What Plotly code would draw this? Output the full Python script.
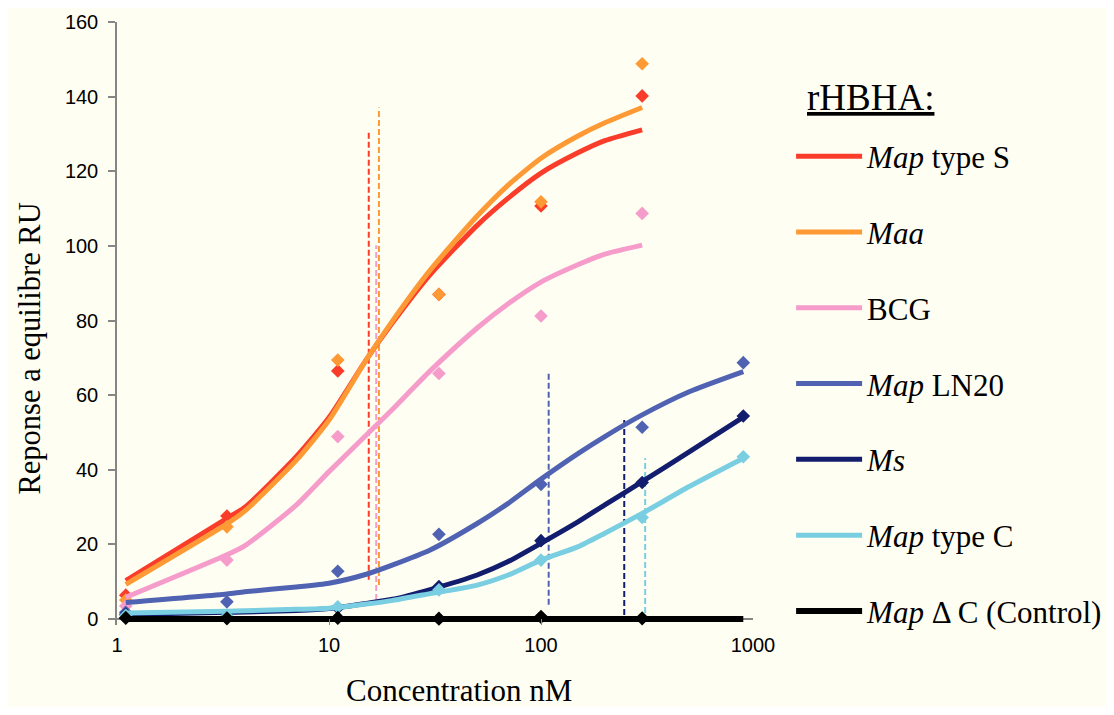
import plotly.graph_objects as go

# ---- data ----
conc = [1.1, 3.3, 11, 33, 100, 300, 900]

names = ["<i>Map</i> type S", "<i>Maa</i>", "BCG", "<i>Map</i> LN20", "<i>Ms</i>",
         "<i>Map</i> type C", "<i>Map</i> \u0394 C (Control)"]
colors = ["#FA3C2A", "#FD9A35", "#F59CCB", "#5063B2", "#131D6E", "#79CEE1", "#000000"]

# measured equilibrium responses (RU)
pts_map_s = [6.4, 27.6, 66.5, 87.0, 110.7, 140.2]
pts_maa = [5.1, 24.7, 69.4, 87.0, 111.8, 148.8]
pts_bcg = [3.5, 15.8, 48.9, 65.8, 81.2, 108.7]
pts_ln20 = [1.8, 4.6, 12.8, 22.7, 36.1, 51.4, 68.7]
pts_ms = [1.3, 0.6, 3.0, 8.7, 21.0, 36.6, 54.4]
pts_c = [1.0, 0.8, 3.3, 7.8, 15.8, 27.2, 43.5]
pts_ctrl = [0.3, 0.2, 0.3, 0.1, 0.6, 0.2]

# fitted curves
fit_x = [1.1, 3.3, 4, 7, 10, 15, 20, 30, 50, 70, 100, 150, 200, 300, 500, 900]
fit_map_s = [10.3, 27.0, 29.9, 43.5, 54.0, 69.5, 79.5, 92.3, 105.5, 112.8, 119.5, 125.0, 128.2, 131.1]
fit_maa = [9.3, 25.5, 28.9, 42.5, 53.3, 69.5, 80.0, 93.5, 108.0, 116.3, 123.5, 129.5, 133.0, 137.1]
fit_bcg = [5.8, 17.2, 19.6, 30.5, 39.5, 49.3, 56.3, 66.5, 78.0, 84.5, 90.3, 95.0, 97.8, 100.2]
fit_ln20 = [4.4, 6.7, 7.3, 8.6, 9.6, 12.0, 14.5, 18.5, 25.6, 31.0, 37.5, 44.4, 48.9, 54.7, 60.9, 66.3]
fit_ms = [1.2, 1.8, 1.9, 2.3, 2.8, 4.2, 5.3, 7.9, 11.8, 15.4, 20.3, 26.1, 30.6, 36.8, 44.8, 54.1]
fit_c = [1.6, 2.1, 2.2, 2.6, 2.9, 4.0, 5.0, 6.8, 9.1, 11.8, 15.8, 19.4, 23.0, 28.3, 35.5, 43.1]
fit_ctrl = [0, 0, 0, 0, 0, 0, 0, 0, 0, 0, 0, 0, 0, 0, 0, 0]

# KD markers (dashed verticals)
kd_x = [15.4, 17.2, 16.7, 108.7, 247, 310]
kd_low = [10.5, 9.1, 5.1, 3.8, 1.1, 1.6]
kd_high = [131.1, 137.1, 100.2, 66.3, 54.1, 43.1]

pts = [pts_map_s, pts_maa, pts_bcg, pts_ln20, pts_ms, pts_c, pts_ctrl]
fits = [fit_map_s, fit_maa, fit_bcg, fit_ln20, fit_ms, fit_c, fit_ctrl]

SERIF = "Liberation Serif, Times New Roman, serif"
SANS = "Liberation Sans, Arial, sans-serif"
BG = "#FFFEF2"

fig = go.Figure()

# dashed KD lines
for i in range(len(kd_x)):
    fig.add_trace(go.Scatter(
        x=[kd_x[i], kd_x[i]], y=[kd_low[i], kd_high[i]], mode="lines",
        line=dict(color=colors[i], width=2, dash="6px,3px"),
        showlegend=False, hoverinfo="skip"))

for i in range(len(names)):
    n = len(fits[i])
    fig.add_trace(go.Scatter(
        x=fit_x[:n], y=fits[i], mode="lines", name=names[i],
        legendgroup="g%d" % i,
        line=dict(color=colors[i], width=6 if i == 6 else 5, shape="spline", smoothing=0.6),
        cliponaxis=False))
    m = len(pts[i])
    fig.add_trace(go.Scatter(
        x=conc[:m], y=pts[i], mode="markers", legendgroup="g%d" % i,
        marker=dict(symbol="diamond", size=11 if i == 6 else 10.5, color=colors[i]),
        showlegend=False, cliponaxis=False))

# page has an 8px body margin: figure is sized/offset to compensate
fig.update_layout(
    width=1106, height=699,
    margin=dict(l=109, r=361, t=14, b=82, autoexpand=False),
    paper_bgcolor=BG, plot_bgcolor=BG,
    font=dict(family=SERIF, color="#000000"),
    showlegend=True,
    legend=dict(
        x=1.0599, xanchor="left", y=0.8217, yanchor="top",
        bgcolor="rgba(0,0,0,0)",
        font=dict(family=SERIF, size=31, color="#000000"),
        traceorder="grouped", tracegroupgap=32.5, itemwidth=66,
    ),
    xaxis=dict(
        type="log", range=[0, 3],
        tickvals=[1, 10, 100, 1000], ticktext=["1", "10", "100", "1000"],
        showgrid=False, showline=False, zeroline=False,
        ticks="inside", ticklen=6, tickcolor="#868686", tickwidth=1,
        tickfont=dict(family=SANS, size=20, color="#000000"),
        ticklabelstandoff=6,
    ),
    yaxis=dict(
        range=[-1.6, 160], tickvals=[0, 20, 40, 60, 80, 100, 120, 140, 160],
        showgrid=False, showline=True, linecolor="#868686", linewidth=1.5,
        zeroline=True, zerolinecolor="#868686", zerolinewidth=1.5,
        ticks="outside", ticklen=7, tickcolor="#868686", tickwidth=1.5,
        tickfont=dict(family=SANS, size=20, color="#000000"),
        ticklabelstandoff=6,
    ),
    annotations=[
        dict(text="Reponse a equilibre RU", xref="paper", yref="paper",
             x=-0.1368, y=0.4585, xanchor="center", yanchor="middle",
             textangle=-90, showarrow=False, font=dict(family=SERIF, size=30.5)),
        dict(text="Concentration nM", xref="paper", yref="paper",
             x=0.5377, y=-0.108, xanchor="center", yanchor="middle",
             showarrow=False, font=dict(family=SERIF, size=31)),
        dict(text="<u>rHBHA:</u>", xref="paper", yref="paper",
             x=1.0818, y=0.8756, xanchor="left", yanchor="middle",
             showarrow=False, font=dict(family=SERIF, size=37)),
    ],
)

fig.write_html("out.html")
